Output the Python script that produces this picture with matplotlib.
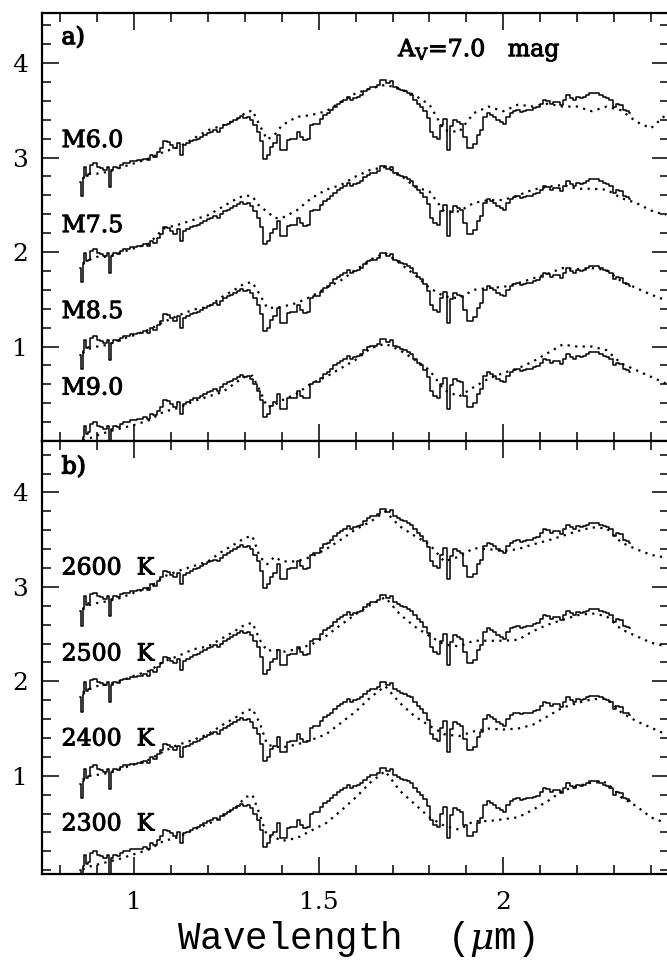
import matplotlib
matplotlib.use("Agg")
import matplotlib.pyplot as plt
import matplotlib.patheffects as pe
from matplotlib.ticker import MultipleLocator
import numpy as np

plt.rcParams['font.family'] = ['DejaVu Serif']
plt.rcParams['mathtext.fontset'] = 'dejavuserif'

# observed spectrum (base level, step plot)
obs_wave = [0.853, 0.858, 0.862, 0.867, 0.871, 0.876, 0.885, 0.894, 0.903, 0.912,
            0.921, 0.930, 0.934, 0.939, 0.948, 0.957, 0.966, 0.975, 0.984, 0.993,
            1.002, 1.011, 1.020, 1.029, 1.038, 1.047, 1.056, 1.065, 1.074, 1.083,
            1.092, 1.101, 1.110, 1.119, 1.128, 1.137, 1.146, 1.156, 1.165, 1.174,
            1.183, 1.192, 1.201, 1.210, 1.219, 1.228, 1.237, 1.246, 1.255, 1.264,
            1.273, 1.282, 1.291, 1.300, 1.309, 1.318, 1.327, 1.336, 1.345, 1.354,
            1.363, 1.372, 1.381, 1.390, 1.399, 1.408, 1.418, 1.427, 1.436, 1.445,
            1.454, 1.463, 1.472, 1.481, 1.490, 1.499, 1.508, 1.517, 1.526, 1.535,
            1.544, 1.553, 1.562, 1.571, 1.580, 1.589, 1.598, 1.607, 1.616, 1.625,
            1.634, 1.643, 1.652, 1.661, 1.670, 1.679, 1.688, 1.697, 1.707, 1.716,
            1.725, 1.734, 1.743, 1.752, 1.761, 1.770, 1.779, 1.788, 1.797, 1.806,
            1.815, 1.824, 1.833, 1.842, 1.851, 1.860, 1.869, 1.878, 1.887, 1.896,
            1.905, 1.914, 1.923, 1.932, 1.941, 1.950, 1.959, 1.968, 1.977, 1.986,
            1.995, 2.004, 2.013, 2.022, 2.031, 2.040, 2.049, 2.058, 2.067, 2.076,
            2.085, 2.094, 2.103, 2.112, 2.121, 2.130, 2.139, 2.148, 2.157, 2.166,
            2.175, 2.184, 2.193, 2.202, 2.211, 2.220, 2.229, 2.238, 2.247, 2.256,
            2.265, 2.274, 2.283, 2.292, 2.301, 2.310, 2.319, 2.328, 2.337, 2.343]
obs_flux = [0.00, -0.15, 0.04, 0.16, 0.07, 0.09, 0.18, 0.20, 0.16, 0.15,
            0.13, 0.16, -0.05, 0.13, 0.16, 0.15, 0.18, 0.20, 0.20, 0.22,
            0.22, 0.23, 0.23, 0.25, 0.23, 0.29, 0.27, 0.32, 0.36, 0.43,
            0.42, 0.39, 0.36, 0.41, 0.29, 0.39, 0.41, 0.43, 0.45, 0.46,
            0.48, 0.50, 0.52, 0.53, 0.55, 0.53, 0.57, 0.60, 0.62, 0.64,
            0.66, 0.68, 0.70, 0.68, 0.69, 0.66, 0.60, 0.53, 0.43, 0.25,
            0.29, 0.37, 0.41, 0.50, 0.34, 0.34, 0.45, 0.46, 0.46, 0.53,
            0.48, 0.45, 0.46, 0.60, 0.62, 0.62, 0.67, 0.71, 0.73, 0.76,
            0.80, 0.83, 0.85, 0.87, 0.90, 0.87, 0.89, 0.90, 0.92, 0.96,
            0.99, 1.01, 1.01, 1.03, 1.08, 1.08, 1.05, 1.07, 1.01, 0.99,
            0.97, 0.96, 0.94, 0.92, 0.87, 0.83, 0.80, 0.75, 0.68, 0.53,
            0.48, 0.46, 0.60, 0.67, 0.34, 0.59, 0.66, 0.64, 0.62, 0.48,
            0.36, 0.36, 0.40, 0.50, 0.55, 0.69, 0.73, 0.71, 0.69, 0.66,
            0.64, 0.62, 0.69, 0.73, 0.75, 0.76, 0.74, 0.75, 0.76, 0.76,
            0.78, 0.79, 0.83, 0.87, 0.86, 0.83, 0.85, 0.85, 0.82, 0.87,
            0.92, 0.89, 0.87, 0.90, 0.89, 0.90, 0.92, 0.94, 0.94, 0.94,
            0.92, 0.90, 0.89, 0.87, 0.80, 0.83, 0.82, 0.76, 0.75, 0.73]

# vertical offsets of the four comparisons (top to bottom)
offsets = [2.74, 1.83, 0.91, 0.0]

# model / template spectra (dotted), base level
model_wave = [0.86, 0.88, 0.90, 0.93, 0.96, 1.00, 1.04, 1.08, 1.12, 1.16,
              1.20, 1.24, 1.28, 1.30, 1.32, 1.34, 1.36, 1.38, 1.40, 1.44,
              1.48, 1.52, 1.56, 1.60, 1.64, 1.68, 1.72, 1.76, 1.80, 1.84,
              1.88, 1.92, 1.96, 2.00, 2.04, 2.08, 2.12, 2.16, 2.20, 2.24,
              2.28, 2.32, 2.36, 2.40, 2.44]
model_M60 = [0.04, 0.09, 0.09, 0.11, 0.15, 0.20, 0.25, 0.32, 0.37, 0.46,
             0.55, 0.60, 0.67, 0.73, 0.76, 0.60, 0.45, 0.50, 0.60, 0.69,
             0.71, 0.75, 0.85, 0.94, 0.99, 1.03, 0.99, 0.92, 0.82, 0.55,
             0.53, 0.73, 0.80, 0.75, 0.82, 0.80, 0.83, 0.80, 0.80, 0.75,
             0.80, 0.76, 0.64, 0.57, 0.71]
model_M75 = [0.05, 0.09, 0.12, 0.12, 0.16, 0.21, 0.26, 0.42, 0.46, 0.51,
             0.56, 0.65, 0.74, 0.77, 0.76, 0.65, 0.60, 0.53, 0.53, 0.61,
             0.74, 0.83, 0.88, 0.97, 1.04, 1.07, 0.99, 0.86, 0.81, 0.60,
             0.60, 0.69, 0.72, 0.72, 0.77, 0.83, 0.86, 0.88, 0.84, 0.84,
             0.83, 0.74, 0.69, 0.61, 0.56]
model_M85 = [0.02, 0.07, 0.09, 0.11, 0.16, 0.21, 0.27, 0.35, 0.42, 0.48,
             0.51, 0.62, 0.71, 0.76, 0.77, 0.64, 0.50, 0.50, 0.51, 0.55,
             0.62, 0.71, 0.79, 0.90, 1.01, 1.08, 0.97, 0.85, 0.71, 0.62,
             0.60, 0.69, 0.71, 0.72, 0.76, 0.81, 0.86, 0.92, 0.91, 0.92,
             0.90, 0.78, 0.71, 0.64, 0.58]
model_M90 = [0.01, 0.03, 0.06, 0.10, 0.13, 0.17, 0.22, 0.31, 0.35, 0.42,
             0.47, 0.52, 0.63, 0.68, 0.69, 0.54, 0.36, 0.38, 0.43, 0.50,
             0.61, 0.68, 0.77, 0.86, 0.98, 1.03, 0.96, 0.86, 0.75, 0.54,
             0.47, 0.57, 0.66, 0.72, 0.77, 0.84, 0.93, 1.02, 1.00, 1.00,
             0.96, 0.82, 0.75, 0.68, 0.61]
model_T2600 = [0.02, 0.07, 0.09, 0.11, 0.14, 0.20, 0.25, 0.37, 0.43, 0.48,
               0.53, 0.64, 0.73, 0.78, 0.80, 0.58, 0.50, 0.58, 0.53, 0.53,
               0.58, 0.66, 0.76, 0.87, 0.95, 1.06, 0.90, 0.80, 0.71, 0.53,
               0.58, 0.67, 0.66, 0.64, 0.66, 0.71, 0.75, 0.80, 0.85, 0.89,
               0.88, 0.73, 0.66, 0.60, 0.57]
model_T2500 = [0.05, 0.09, 0.12, 0.14, 0.17, 0.23, 0.28, 0.38, 0.44, 0.51,
               0.54, 0.63, 0.72, 0.77, 0.79, 0.61, 0.49, 0.51, 0.48, 0.51,
               0.56, 0.65, 0.77, 0.88, 0.98, 1.06, 0.88, 0.75, 0.65, 0.56,
               0.54, 0.60, 0.60, 0.60, 0.61, 0.70, 0.77, 0.82, 0.87, 0.89,
               0.86, 0.72, 0.65, 0.58, 0.54]
model_T2400 = [0.05, 0.09, 0.10, 0.12, 0.16, 0.21, 0.26, 0.35, 0.42, 0.47,
               0.53, 0.63, 0.72, 0.77, 0.80, 0.65, 0.42, 0.40, 0.39, 0.42,
               0.47, 0.53, 0.65, 0.77, 0.92, 1.04, 0.86, 0.72, 0.62, 0.53,
               0.51, 0.56, 0.59, 0.58, 0.59, 0.63, 0.72, 0.81, 0.86, 0.90,
               0.91, 0.76, 0.67, 0.60, 0.53]
model_T2300 = [0.01, 0.04, 0.06, 0.09, 0.12, 0.17, 0.22, 0.31, 0.35, 0.43,
               0.49, 0.57, 0.68, 0.77, 0.80, 0.59, 0.36, 0.35, 0.31, 0.34,
               0.42, 0.50, 0.63, 0.77, 0.93, 1.05, 0.84, 0.70, 0.56, 0.47,
               0.43, 0.52, 0.52, 0.54, 0.56, 0.64, 0.73, 0.84, 0.89, 0.93,
               0.93, 0.77, 0.68, 0.56, 0.50]

labels_a = ["M6.0", "M7.5", "M8.5", "M9.0"]
labels_b = ["2600  K", "2500  K", "2400  K", "2300  K"]
label_y_a = [3.18, 2.28, 1.37, 0.56]
label_y_b = [3.20, 2.29, 1.39, 0.49]
models_a = [model_M60, model_M75, model_M85, model_M90]
models_b = [model_T2600, model_T2500, model_T2400, model_T2300]

fig = plt.figure(figsize=(6.67, 9.63), dpi=100)
W, H = 667.0, 963.0
left = 42 / W
width = 627 / W
ax_a = fig.add_axes([left, 1 - 441 / H, width, 428 / H])
ax_b = fig.add_axes([left, 1 - 874 / H, width, 433 / H])

obs_wave_arr = np.array(obs_wave)
obs_flux_arr = np.array(obs_flux)
model_wave_arr = np.array(model_wave)

heavy = [pe.withStroke(linewidth=0.7, foreground='black')]

for ax, models, labels, ly, tag in [(ax_a, models_a, labels_a, label_y_a, "a)"),
                                     (ax_b, models_b, labels_b, label_y_b, "b)")]:
    for off, mod, lab, y in zip(offsets, models, labels, ly):
        ax.step(obs_wave_arr, obs_flux_arr + off, where='mid', color='black', lw=1.1)
        ax.plot(model_wave_arr, np.array(mod) + off, color='black', lw=1.6,
                linestyle=(0, (1, 2.4)))
        ax.text(0.803, y, lab, fontsize=17, ha='left', va='center', path_effects=heavy)
    ax.text(0.803, 4.27, tag, fontsize=17, ha='left', va='center',
            path_effects=[pe.withStroke(linewidth=1.0, foreground='black')])
    ax.set_xlim(0.75, 2.449)
    ax.xaxis.set_major_locator(MultipleLocator(0.5))
    ax.xaxis.set_minor_locator(MultipleLocator(0.1))
    ax.yaxis.set_major_locator(MultipleLocator(1))
    ax.yaxis.set_minor_locator(MultipleLocator(0.2))
    ax.tick_params(which='both', direction='in', top=True, right=True, width=1.1,
                   color='black')
    ax.tick_params(which='major', length=12, pad=10, labelsize=18)
    ax.tick_params(which='minor', length=6.5)
    for s in ax.spines.values():
        s.set_linewidth(1.6)

ax_a.set_ylim(0, 4.53)
ax_b.set_ylim(-0.04, 4.545)
ax_a.tick_params(labelbottom=False)
ax_b.xaxis.set_major_formatter(plt.FuncFormatter(lambda v, p: f"{v:g}"))
ax_b.tick_params(axis='x', which='major', pad=12)
ax_a.set_yticks([1, 2, 3, 4])
ax_b.set_yticks([1, 2, 3, 4])

ax_a.text(1.715, 4.14, r"A$_{\rm V}$=7.0   mag", fontsize=17,
          ha='left', va='center', path_effects=heavy)

ax_b.set_xlabel(r"Wavelength  ($\mu$m)", fontsize=27, family='Liberation Mono',
                labelpad=4)

fig.savefig("out.png", dpi=100)
